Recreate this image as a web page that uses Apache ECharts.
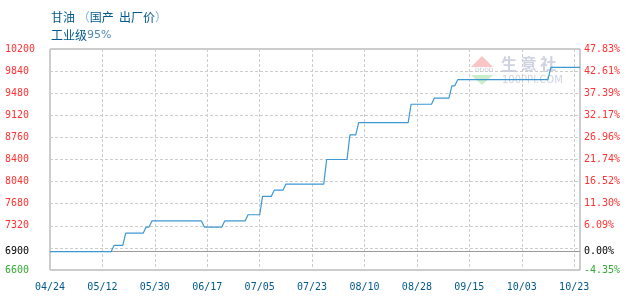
<!DOCTYPE html>
<html><head><meta charset="utf-8">
<script src="https://cdn.jsdelivr.net/npm/echarts@6/dist/echarts.min.js"></script>
<style>html,body{margin:0;padding:0;background:#fff}#c{width:630px;height:300px}</style>
</head><body><div id="c"></div>
<script>
// ---- data ----
const titleText = '甘油 （国产 出厂价）';
const subText = '工业级95%';
const startDate = '04-24';
const endDate = '10-23';
const xTickLabels = ['04/24','05/12','05/30','06/17','07/05','07/23','08/10','08/28','09/15','10/03','10/23'];
const xTickStepDays = 18;
const baseValue = 6900;
const yMin = 6600, yMax = 10200, yStep = 360;
const yLabelValues = [6600, 6900, 7320, 7680, 8040, 8400, 8760, 9120, 9480, 9840, 10200];
const pointDates = ['04-24','05-15','05-16','05-19','05-20','05-26','05-27','05-28','05-29','06-15','06-16','06-22','06-23','06-30','07-01','07-05','07-06','07-09','07-10','07-13','07-14','07-27','07-28','08-04','08-05','08-07','08-08','08-25','08-26','09-02','09-03','09-08','09-09','09-10','09-11','10-12','10-13','10-23'];
const priceValues = [6900,6900,7000,7000,7200,7200,7300,7300,7400,7400,7300,7300,7400,7400,7500,7500,7800,7800,7900,7900,8000,8000,8400,8400,8800,8800,9000,9000,9300,9300,9400,9400,9600,9600,9700,9700,9900,9900];

// ---- helpers ----
function dayOf(md){const p=md.split('-').map(Number);const s=startDate.split('-').map(Number);
  return Math.round((Date.UTC(2023,p[0]-1,p[1])-Date.UTC(2023,s[0]-1,s[1]))/86400000);}
const seriesData = pointDates.map((d,i)=>[dayOf(d), priceValues[i]]);
const pct = v => ((v-baseValue)/baseValue*100).toFixed(2)+'%';
const labelColor = v => { v=Number(v); return v===baseValue?'#000000':(v<baseValue?'#33aa33':'#ff3333'); };

const chart = echarts.init(document.getElementById('c'), null, {renderer:'canvas'});
chart.setOption({
  animation:false,
  backgroundColor:'#ffffff',
  title:{
    text:'甘油 {p|（}国产  出厂价{p|）}', left:46, top:6, itemGap:6,
    textStyle:{fontSize:12, fontWeight:'normal', color:'#00598c', fontFamily:'Noto Sans CJK SC',
      rich:{p:{fontSize:12,color:'#7eb2d4',fontFamily:'Noto Sans CJK SC'}}},
    subtext:'工业级{n|95%}',
    subtextStyle:{fontSize:12, color:'#00598c', fontFamily:'Noto Sans CJK SC',
      rich:{n:{fontSize:11,color:'#4f87b0',fontFamily:'DejaVu Sans'}}}
  },
  grid:{left:50, right:50, top:49, bottom:30, show:true, borderColor:'#9a9a9a', borderWidth:1, backgroundColor:'transparent'},
  xAxis:{
    type:'value', min:0, max:dayOf(endDate), interval:xTickStepDays,
    axisLine:{show:false}, axisTick:{show:false},
    splitLine:{show:true, lineStyle:{color:'#cccccc', type:[3,2], width:1}},
    axisLabel:{margin:12, color:'#00598c', fontSize:10, fontFamily:'DejaVu Sans Mono',
      showMaxLabel:false,
      formatter:v=>{const k=v/xTickStepDays; return Number.isInteger(k)&&k<xTickLabels.length?xTickLabels[k]:'';}}
  },
  yAxis:[{
    type:'value', min:yMin, max:yMax, interval:yStep, position:'left',
    axisLine:{show:false}, axisTick:{show:false},
    splitLine:{show:true, lineStyle:{color:'#cccccc', type:[3,2], width:1}},
    axisLabel:{customValues:yLabelValues, align:'left', margin:45, fontSize:10, fontFamily:'DejaVu Sans Mono',
      color:labelColor, formatter:v=>String(v)}
  },{
    type:'value', min:yMin, max:yMax, interval:yStep, position:'right',
    axisLine:{show:false}, axisTick:{show:false}, splitLine:{show:false},
    axisLabel:{customValues:yLabelValues, align:'left', margin:4, fontSize:10, fontFamily:'DejaVu Sans Mono',
      color:labelColor, formatter:v=>pct(v)}
  }],
  graphic:[
    {type:'polygon', left:471, top:56, shape:{points:[[11,0],[22,11],[0,11]]}, style:{fill:'rgba(240,150,150,0.55)'}, z:0},
    {type:'text', left:475, top:67, style:{text:'DDDD', fontSize:6, fill:'rgba(150,150,170,0.6)', fontFamily:'DejaVu Sans'}, z:0},
    {type:'polygon', left:471, top:75, shape:{points:[[0,0],[22,0],[11,10]]}, style:{fill:'rgba(150,220,150,0.5)'}, z:0},
    {type:'text', left:501, top:56, style:{text:'生 意 社', fontSize:16, fontWeight:'bold', fill:'rgba(190,195,215,0.75)', fontFamily:'Noto Sans CJK SC'}, z:0},
    {type:'text', left:502, top:75, style:{text:'100PPI.COM', fontSize:10, fill:'rgba(190,195,215,0.75)', fontFamily:'DejaVu Sans'}, z:0}
  ],
  series:[{
    type:'line', data:seriesData, showSymbol:false, symbol:'none', z:5,
    lineStyle:{color:'#3d97d3', width:1.2},
    markLine:{silent:true, symbol:['none','none'], label:{show:false},
      lineStyle:{color:'#9a9a9a', type:'solid', width:1},
      data:[{yAxis:baseValue}], z:3}
  }]
});
</script></body></html>
